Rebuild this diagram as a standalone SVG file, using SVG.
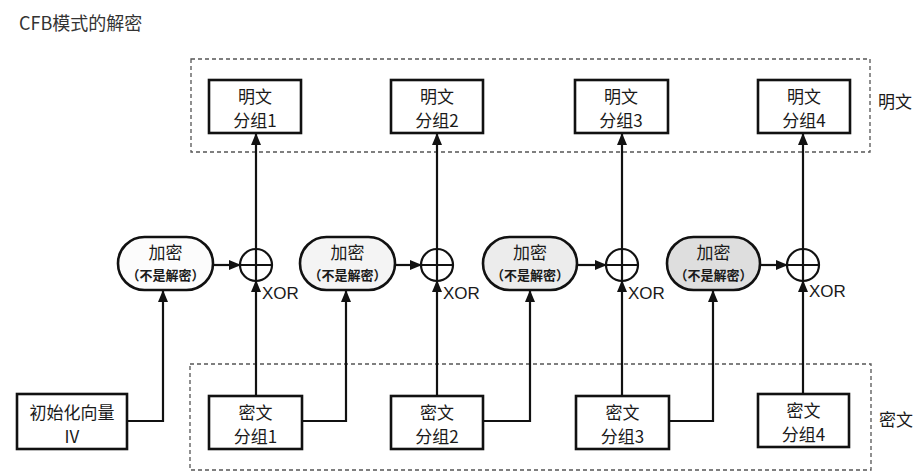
<svg xmlns="http://www.w3.org/2000/svg" width="923" height="476" viewBox="0 0 923 476">
<style>
text{font-family:"Noto Sans CJK SC","Liberation Sans",sans-serif;fill:#1a1a1a;text-anchor:middle}
.t{font-size:17px}
.s{font-size:13px;font-weight:bold}
.xor{font-family:"Liberation Sans",Arial,sans-serif;font-size:17px;text-anchor:start}
.box{fill:#fff;stroke:#111;stroke-width:2.6}
.dash{fill:none;stroke:#555;stroke-width:1.3;stroke-dasharray:4 3}
.ln{fill:none;stroke:#111;stroke-width:2.2}
.arr{fill:none;stroke:#111;stroke-width:2.2;marker-end:url(#ah)}
.enc{stroke:#111;stroke-width:2.6}
.x{fill:#fff;stroke:#111;stroke-width:2.2}
</style>
<defs>
<marker id="ah" markerUnits="userSpaceOnUse" markerWidth="12" markerHeight="12" viewBox="0 0 12 12" refX="11" refY="6" orient="auto">
<path d="M0,1 L12,6 L0,11 Z" fill="#111"/>
</marker>
</defs>
<text x="19" y="30" style="font-size:18px;text-anchor:start;fill:#333">CFB模式的解密</text>
<rect class="dash" x="191" y="59" width="679" height="93"/>
<rect class="dash" x="190" y="364" width="681" height="106"/>
<text class="t" x="895" y="108">明文</text>
<text class="t" x="896" y="426">密文</text>

<g id="connectors">
<polyline class="arr" points="127,421 163,421 163,291"/>
<polyline class="arr" points="302,421 346,421 346,291"/>
<polyline class="arr" points="483,421 530,421 530,291"/>
<polyline class="arr" points="669,421 713,421 713,291"/>
<line class="arr" x1="213" y1="265" x2="240" y2="265"/>
<line class="arr" x1="395" y1="265" x2="421" y2="265"/>
<line class="arr" x1="577" y1="265" x2="606" y2="265"/>
<line class="arr" x1="760" y1="265" x2="787" y2="265"/>
<line class="arr" x1="256" y1="249" x2="256" y2="134"/>
<line class="arr" x1="437" y1="249" x2="437" y2="134"/>
<line class="arr" x1="622" y1="249" x2="622" y2="134"/>
<line class="arr" x1="803" y1="249" x2="803" y2="134"/>
<line class="arr" x1="256" y1="396" x2="256" y2="281"/>
<line class="arr" x1="437" y1="396" x2="437" y2="281"/>
<line class="arr" x1="622" y1="396" x2="622" y2="281"/>
<line class="arr" x1="803" y1="394" x2="803" y2="281"/>
</g>

<g id="p1"><rect class="box" x="209" y="80" width="92" height="53"/><text class="t" x="255" y="103">明文</text><text class="t" x="255" y="127">分组1</text></g>
<g id="p2"><rect class="box" x="391" y="80" width="92" height="53"/><text class="t" x="437" y="103">明文</text><text class="t" x="437" y="127">分组2</text></g>
<g id="p3"><rect class="box" x="575" y="80" width="93" height="53"/><text class="t" x="621" y="103">明文</text><text class="t" x="621" y="127">分组3</text></g>
<g id="p4"><rect class="box" x="758" y="80" width="92" height="53"/><text class="t" x="804" y="103">明文</text><text class="t" x="804" y="127">分组4</text></g>

<g id="e1"><rect class="enc" x="118" y="237" width="95" height="53" rx="26.5" fill="#fcfcfc"/><text class="t" x="165.5" y="259">加密</text><text class="s" x="165.5" y="280">（不是解密）</text></g>
<g id="e2"><rect class="enc" x="300" y="237" width="95" height="53" rx="26.5" fill="#f4f4f4"/><text class="t" x="347.5" y="259">加密</text><text class="s" x="347.5" y="280">（不是解密）</text></g>
<g id="e3"><rect class="enc" x="483" y="237" width="94" height="53" rx="26.5" fill="#ececec"/><text class="t" x="530" y="259">加密</text><text class="s" x="530" y="280">（不是解密）</text></g>
<g id="e4"><rect class="enc" x="667" y="237" width="93" height="53" rx="26.5" fill="#dedede"/><text class="t" x="713.5" y="259">加密</text><text class="s" x="713.5" y="280">（不是解密）</text></g>

<g id="x1"><circle class="x" cx="256" cy="265" r="16"/><path class="ln" d="M240,265H272M256,249V281"/><text class="xor" x="262" y="299">XOR</text></g>
<g id="x2"><circle class="x" cx="437" cy="265" r="16"/><path class="ln" d="M421,265H453M437,249V281"/><text class="xor" x="443" y="299">XOR</text></g>
<g id="x3"><circle class="x" cx="622" cy="265" r="16"/><path class="ln" d="M606,265H638M622,249V281"/><text class="xor" x="628" y="299">XOR</text></g>
<g id="x4"><circle class="x" cx="803" cy="265" r="16"/><path class="ln" d="M787,265H819M803,249V281"/><text class="xor" x="809" y="297">XOR</text></g>

<g id="iv"><rect class="box" x="17" y="394" width="110" height="55"/><text class="t" x="72" y="419">初始化向量</text><text class="t" x="72" y="443">IV</text></g>
<g id="c1"><rect class="box" x="209" y="396" width="93" height="53"/><text class="t" x="255.5" y="419">密文</text><text class="t" x="255.5" y="443">分组1</text></g>
<g id="c2"><rect class="box" x="391" y="396" width="92" height="53"/><text class="t" x="437" y="419">密文</text><text class="t" x="437" y="443">分组2</text></g>
<g id="c3"><rect class="box" x="576" y="396" width="93" height="53"/><text class="t" x="622.5" y="419">密文</text><text class="t" x="622.5" y="443">分组3</text></g>
<g id="c4"><rect class="box" x="758" y="394" width="91" height="53"/><text class="t" x="803.5" y="417">密文</text><text class="t" x="803.5" y="441">分组4</text></g>
</svg>
